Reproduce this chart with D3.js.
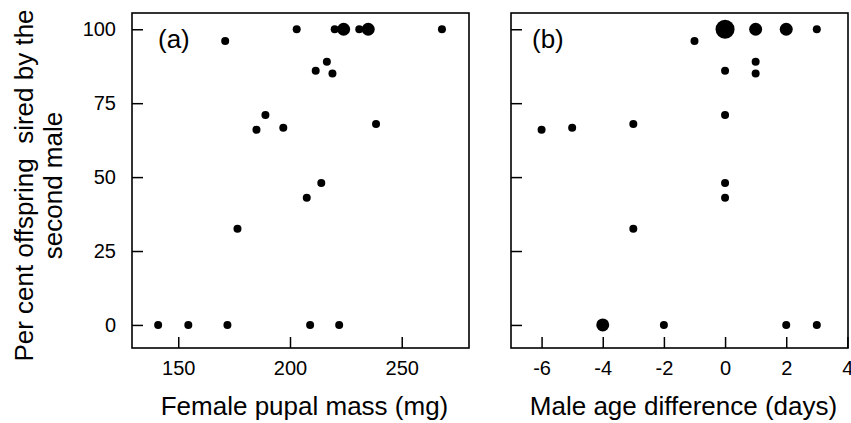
<!DOCTYPE html>
<html>
<head>
<meta charset="utf-8">
<script src="https://cdn.jsdelivr.net/npm/d3@7"></script>
<style>
  body { margin: 0; background: #fff; }
  svg { display: block; font-family: "Liberation Sans", Arial, Helvetica, sans-serif; }
</style>
</head>
<body>
<div id="chart"></div>
<script>
// Panel (a): female pupal mass (mg) vs per cent sired by the second male
const massValues = [171, 203, 220, 224, 231, 235, 268, 216.5, 211.5, 219, 189, 185, 197, 238.5, 214, 207.5, 176.5, 141, 154.5, 172, 209, 222];
const massPercent = [96, 100, 100, 100, 100, 100, 100, 89, 86, 85, 71, 66, 66.7, 68, 48, 43, 32.5, 0, 0, 0, 0, 0];
const massCount = [1, 1, 1, 2, 1, 2, 1, 1, 1, 1, 1, 1, 1, 1, 1, 1, 1, 1, 1, 1, 1, 1];

// Panel (b): male age difference (days) vs per cent sired by the second male
const ageValues = [0, 1, 2, 3, -1, 1, 0, 1, 0, -6, -5, -3, 0, 0, -3, -4, -2, 2, 3];
const agePercent = [100, 100, 100, 100, 96, 89, 86, 85, 71, 66, 66.7, 68, 48, 43, 32.5, 0, 0, 0, 0];
const ageCount = [3, 2, 2, 1, 1, 1, 1, 1, 1, 1, 1, 1, 1, 1, 1, 2, 1, 1, 1];

const yTicks = [0, 25, 50, 75, 100];
const massTicks = [150, 200, 250];
const ageTicks = [-6, -4, -2, 0, 2, 4];

const W = 851, H = 423;
const plotTop = 13, plotBottom = 348;
const tickLen = 11;

const svg = d3.select("#chart").append("svg")
  .attr("width", W)
  .attr("height", H);

const y = d3.scaleLinear().domain([-7.8, 105.5]).range([plotBottom, plotTop]);
const r = d3.scaleLinear().domain([1, 2, 3]).range([4, 6.5, 9.5]);

function drawPanel(opts) {
  const x = d3.scaleLinear().domain(opts.domain).range([opts.left, opts.right]);
  const data = opts.xs.map((v, i) => ({ x: v, y: opts.ys[i], n: opts.ns[i] }));
  const g = svg.append("g");

  // x axis, ticks pointing inward
  const xAxis = g.append("g")
    .attr("transform", `translate(0,${plotBottom})`)
    .call(d3.axisBottom(x).tickValues(opts.xTicks).tickSize(-tickLen).tickPadding(13)
      .tickFormat(d => String(d)));
  xAxis.select(".domain").remove();

  // y axis
  const yAxis = g.append("g")
    .attr("transform", `translate(${opts.left},0)`)
    .call(d3.axisLeft(y).tickValues(yTicks).tickSize(-tickLen).tickPadding(16)
      .tickFormat(opts.yLabels ? d => String(d) : ""));
  yAxis.select(".domain").remove();

  g.selectAll(".tick line").attr("stroke", "#000").attr("stroke-width", 1.5);
  g.selectAll(".tick text")
    .attr("fill", "#000")
    .style("font-size", "20px")
    .style("font-family", "'Liberation Sans', Arial, sans-serif");

  // frame
  g.append("rect")
    .attr("x", opts.left)
    .attr("y", plotTop)
    .attr("width", opts.right - opts.left)
    .attr("height", plotBottom - plotTop)
    .attr("fill", "none")
    .attr("stroke", "#000")
    .attr("stroke-width", 1.6);

  g.selectAll("circle.pt")
    .data(data)
    .join("circle")
    .attr("class", "pt")
    .attr("cx", d => x(d.x))
    .attr("cy", d => y(d.y))
    .attr("r", d => r(d.n))
    .attr("fill", "#000");

  g.append("text")
    .attr("x", opts.left + opts.tagDx)
    .attr("y", plotTop + 35)
    .style("font-size", "26px")
    .text(opts.tag);

  g.append("text")
    .attr("x", (opts.left + opts.right) / 2 + 4)
    .attr("y", 415)
    .attr("text-anchor", "middle")
    .style("font-size", "26px")
    .text(opts.title);
}

drawPanel({
  left: 132, right: 469,
  domain: [129.3, 280.1],
  xs: massValues, ys: massPercent, ns: massCount,
  xTicks: massTicks, yLabels: true,
  tag: "(a)", tagDx: 26,
  title: "Female pupal mass (mg)"
});

drawPanel({
  left: 511, right: 848,
  domain: [-7, 4.02],
  xs: ageValues, ys: agePercent, ns: ageCount,
  xTicks: ageTicks, yLabels: false,
  tag: "(b)", tagDx: 21,
  title: "Male age difference (days)"
});

// shared y title, two lines
const yMid = (plotTop + plotBottom) / 2 + 5;
const yTitle = svg.append("text")
  .attr("transform", `translate(0,${yMid}) rotate(-90)`)
  .attr("text-anchor", "middle")
  .style("font-size", "26px")
  .style("white-space", "pre");
yTitle.append("tspan").attr("x", 0).attr("y", 33).text("Per cent offspring  sired by the");
yTitle.append("tspan").attr("x", 0).attr("y", 62).text("second male");
</script>
</body>
</html>
